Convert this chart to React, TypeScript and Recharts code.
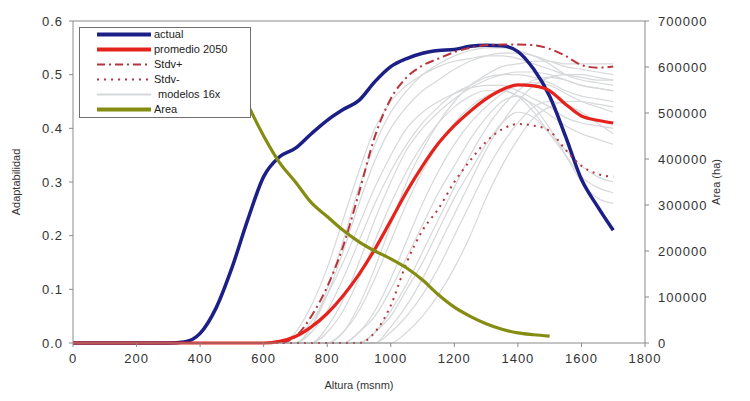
import { LineChart, Line, XAxis, YAxis, ReferenceLine } from "recharts";

// altura (msnm), step 50
const ALTITUDES = [
  0, 50, 100, 150, 200, 250, 300, 350, 400, 450, 500, 550, 600, 650, 700, 750, 800, 850,
  900, 950, 1000, 1050, 1100, 1150, 1200, 1250, 1300, 1350, 1400, 1450, 1500, 1550, 1600,
  1650, 1700,
];

const ACTUAL = [
  0, 0, 0, 0, 0, 0, 0, 0.002, 0.018, 0.065, 0.14, 0.23, 0.31, 0.347, 0.363, 0.39, 0.415,
  0.435, 0.452, 0.487, 0.515, 0.53, 0.54, 0.545, 0.547, 0.553, 0.555, 0.554, 0.543, 0.51, 0.46,
  0.385, 0.305, 0.255, 0.21,
];

const PROMEDIO_2050 = [
  0, 0, 0, 0, 0, 0, 0, 0, 0, 0, 0, 0, 0, 0.003, 0.012, 0.03, 0.055, 0.088, 0.128, 0.175, 0.228,
  0.282, 0.33, 0.372, 0.405, 0.432, 0.455, 0.472, 0.481, 0.479, 0.47, 0.445, 0.423, 0.415, 0.41,
];

const STDV_PLUS = [
  0, 0, 0, 0, 0, 0, 0, 0, 0, 0, 0, 0, 0, 0, 0.012, 0.05, 0.105, 0.18, 0.28, 0.385, 0.455,
  0.495, 0.517, 0.53, 0.542, 0.55, 0.555, 0.556, 0.556, 0.555, 0.548, 0.535, 0.518, 0.513,
  0.515,
];

const STDV_MINUS = [
  0, 0, 0, 0, 0, 0, 0, 0, 0, 0, 0, 0, 0, 0, 0, 0, 0, 0, 0, 0.02, 0.07, 0.15, 0.21, 0.25, 0.3,
  0.34, 0.375, 0.398, 0.408, 0.405, 0.395, 0.36, 0.33, 0.315, 0.31,
];

// ha
const AREA = [
  null, null, null, null, null, null, null, null, null, null, 590000, 518000, 450000, 392000,
  350000, 305000, 275000, 245000, 220000, 200000, 183000, 163000, 137000, 105000, 78000,
  58000, 42000, 30000, 22000, 18000, 15000, null, null, null, null,
];

// 16 modelos
const MODELOS = [
  [0, 0, 0, 0, 0, 0, 0, 0, 0, 0, 0, 0, 0, 0, 0.02, 0.07, 0.14, 0.23, 0.32, 0.4, 0.45, 0.48, 0.5, 0.515, 0.525, 0.53, 0.535, 0.535, 0.53, 0.52, 0.51, 0.5, 0.495, 0.49, 0.49],
  [0, 0, 0, 0, 0, 0, 0, 0, 0, 0, 0, 0, 0, 0, 0, 0.03, 0.09, 0.17, 0.26, 0.34, 0.4, 0.44, 0.47, 0.49, 0.51, 0.525, 0.535, 0.54, 0.54, 0.535, 0.525, 0.515, 0.51, 0.505, 0.5],
  [0, 0, 0, 0, 0, 0, 0, 0, 0, 0, 0, 0, 0, 0, 0, 0.02, 0.06, 0.12, 0.19, 0.26, 0.32, 0.37, 0.41, 0.44, 0.465, 0.48, 0.495, 0.5, 0.5, 0.495, 0.485, 0.47, 0.46, 0.455, 0.45],
  [0, 0, 0, 0, 0, 0, 0, 0, 0, 0, 0, 0, 0, 0, 0, 0, 0.03, 0.08, 0.15, 0.23, 0.3, 0.36, 0.4, 0.43, 0.455, 0.475, 0.49, 0.5, 0.505, 0.505, 0.5, 0.49, 0.48, 0.475, 0.47],
  [0, 0, 0, 0, 0, 0, 0, 0, 0, 0, 0, 0, 0, 0, 0, 0, 0.02, 0.06, 0.12, 0.19, 0.26, 0.32, 0.37, 0.41, 0.44, 0.46, 0.47, 0.47, 0.46, 0.445, 0.425, 0.405, 0.39, 0.38, 0.37],
  [0, 0, 0, 0, 0, 0, 0, 0, 0, 0, 0, 0, 0, 0, 0, 0, 0, 0.02, 0.07, 0.14, 0.22, 0.3, 0.36, 0.41, 0.45, 0.48, 0.5, 0.515, 0.52, 0.525, 0.525, 0.52, 0.52, 0.52, 0.52],
  [0, 0, 0, 0, 0, 0, 0, 0, 0, 0, 0, 0, 0, 0, 0, 0, 0, 0.02, 0.06, 0.12, 0.19, 0.26, 0.32, 0.37, 0.41, 0.44, 0.46, 0.47, 0.46, 0.43, 0.39, 0.35, 0.31, 0.29, 0.28],
  [0, 0, 0, 0, 0, 0, 0, 0, 0, 0, 0, 0, 0, 0, 0, 0, 0, 0, 0.02, 0.06, 0.12, 0.19, 0.26, 0.32, 0.37, 0.41, 0.44, 0.465, 0.48, 0.485, 0.48, 0.465, 0.45, 0.44, 0.43],
  [0, 0, 0, 0, 0, 0, 0, 0, 0, 0, 0, 0, 0, 0, 0, 0, 0, 0, 0.02, 0.05, 0.1, 0.16, 0.22, 0.28, 0.33, 0.38, 0.42, 0.45, 0.46, 0.44, 0.4, 0.35, 0.3, 0.27, 0.26],
  [0, 0, 0, 0, 0, 0, 0, 0, 0, 0, 0, 0, 0, 0, 0, 0, 0, 0, 0, 0.02, 0.06, 0.11, 0.17, 0.23, 0.29, 0.35, 0.4, 0.44, 0.47, 0.49, 0.495, 0.49, 0.48, 0.475, 0.47],
  [0, 0, 0, 0, 0, 0, 0, 0, 0, 0, 0, 0, 0, 0, 0, 0, 0, 0, 0, 0, 0.02, 0.05, 0.09, 0.14, 0.2, 0.26, 0.32, 0.37, 0.41, 0.44, 0.45, 0.445, 0.43, 0.41, 0.39],
  [0, 0, 0, 0, 0, 0, 0, 0, 0, 0, 0, 0, 0, 0, 0, 0, 0, 0, 0, 0, 0, 0.02, 0.05, 0.09, 0.14, 0.2, 0.27, 0.33, 0.38, 0.42, 0.44, 0.45, 0.45, 0.445, 0.44],
  [0, 0, 0, 0, 0, 0, 0, 0, 0, 0, 0, 0, 0, 0, 0, 0.03, 0.1, 0.19, 0.29, 0.37, 0.43, 0.47, 0.5, 0.52, 0.535, 0.545, 0.55, 0.55, 0.545, 0.535, 0.52, 0.5, 0.49, 0.485, 0.48],
  [0, 0, 0, 0, 0, 0, 0, 0, 0, 0, 0, 0, 0, 0, 0, 0, 0, 0, 0, 0.02, 0.05, 0.1, 0.15, 0.21, 0.27, 0.32, 0.37, 0.41, 0.43, 0.42, 0.39, 0.36, 0.33, 0.31, 0.3],
  [0, 0, 0, 0, 0, 0, 0, 0, 0, 0, 0, 0, 0, 0, 0.01, 0.04, 0.09, 0.15, 0.22, 0.29, 0.35, 0.4, 0.43, 0.45, 0.465, 0.475, 0.48, 0.48, 0.47, 0.455, 0.44, 0.42, 0.41, 0.405, 0.4],
  [0, 0, 0, 0, 0, 0, 0, 0, 0, 0, 0, 0, 0, 0, 0, 0, 0, 0, 0, 0, 0.03, 0.07, 0.12, 0.18, 0.24, 0.3, 0.36, 0.41, 0.45, 0.48, 0.495, 0.5, 0.5, 0.495, 0.49],
];

const X_TICKS = [0, 200, 400, 600, 800, 1000, 1200, 1400, 1600, 1800];
const LEFT_TICKS = [0, 0.1, 0.2, 0.3, 0.4, 0.5, 0.6];
const RIGHT_TICKS = [0, 100000, 200000, 300000, 400000, 500000, 600000, 700000];

const COLORS = {
  actual: "#1c1f86",
  promedio: "#e5231d",
  stdv: "#b8343c",
  modelos: "#d6d8da",
  area: "#848c12",
  axis: "#8a8a8a",
  text: "#333333",
};

const FONT = '"Liberation Sans", Arial, sans-serif';

const data = ALTITUDES.map((alt, i) => {
  const row: Record<string, number | null> = {
    alt,
    actual: ACTUAL[i],
    promedio: PROMEDIO_2050[i],
    stdvPlus: STDV_PLUS[i],
    stdvMinus: STDV_MINUS[i],
    area: AREA[i],
  };
  MODELOS.forEach((m, k) => {
    row[`m${k}`] = m[i];
  });
  return row;
});

const tickStyle = { fill: COLORS.text, fontSize: 13, fontFamily: FONT, letterSpacing: 1 };

const LEGEND_ITEMS = [
  { label: "actual", color: COLORS.actual, width: 4, dash: undefined, indent: 0 },
  { label: "promedio 2050", color: COLORS.promedio, width: 4, dash: undefined, indent: 0 },
  { label: "Stdv+", color: COLORS.stdv, width: 2, dash: "8 4 2 4", indent: 0 },
  { label: "Stdv-", color: COLORS.stdv, width: 2, dash: "2 5", indent: 0 },
  { label: "modelos 16x", color: COLORS.modelos, width: 2, dash: undefined, indent: 4 },
  { label: "Area", color: COLORS.area, width: 4, dash: undefined, indent: 0 },
];

function ChartLegend() {
  return (
    <div
      style={{
        position: "absolute",
        left: 79,
        top: 27,
        width: 172,
        height: 91,
        boxSizing: "border-box",
        border: "1px solid #707070",
        background: "#ffffff",
        fontFamily: FONT,
        fontSize: 11,
        color: "#222",
      }}
    >
      {LEGEND_ITEMS.map((item, i) => (
        <div
          key={item.label}
          style={{
            position: "absolute",
            left: 0,
            top: i * 15 - 1,
            height: 15,
            display: "flex",
            alignItems: "center",
          }}
        >
          <svg width={74} height={15} style={{ display: "block" }}>
            <line
              x1={17}
              x2={71}
              y1={7.5}
              y2={7.5}
              stroke={item.color}
              strokeWidth={item.width}
              strokeDasharray={item.dash}
            />
          </svg>
          <span style={{ marginLeft: item.indent, lineHeight: "15px" }}>{item.label}</span>
        </div>
      ))}
    </div>
  );
}

export default function App() {
  return (
    <div style={{ position: "absolute", left: 0, top: 0, width: 750, height: 401, background: "#fff" }}>
      <LineChart
        width={750}
        height={401}
        data={data}
        margin={{ top: 21, right: 0, bottom: 0, left: 0 }}
      >
        <XAxis
          dataKey="alt"
          type="number"
          domain={[0, 1800]}
          ticks={X_TICKS}
          height={58}
          stroke={COLORS.axis}
          tick={tickStyle}
          tickSize={4}
          tickMargin={7}
          label={{
            value: "Altura (msnm)",
            position: "insideBottom",
            offset: 12,
            style: { fill: COLORS.text, fontSize: 11, fontFamily: FONT },
          }}
        />
        <YAxis
          yAxisId="left"
          domain={[0, 0.6]}
          ticks={LEFT_TICKS}
          width={73}
          stroke={COLORS.axis}
          tick={tickStyle}
          tickSize={4}
          tickMargin={6}
          tickFormatter={(v: number) => v.toFixed(1)}
          label={{
            value: "Adaptabilidad",
            angle: -90,
            position: "insideLeft",
            offset: 16,
            style: { fill: COLORS.text, fontSize: 11, fontFamily: FONT, textAnchor: "middle" },
          }}
        />
        <YAxis
          yAxisId="right"
          orientation="right"
          domain={[0, 700000]}
          ticks={RIGHT_TICKS}
          width={105}
          stroke={COLORS.axis}
          tick={tickStyle}
          tickSize={4}
          tickMargin={9}
          label={{
            value: "Area (ha)",
            angle: -90,
            position: "insideRight",
            offset: 34,
            style: { fill: COLORS.text, fontSize: 11, fontFamily: FONT, textAnchor: "middle" },
          }}
        />
        <ReferenceLine yAxisId="left" y={0.6} stroke={COLORS.axis} />
        {MODELOS.map((_, k) => (
          <Line
            key={k}
            yAxisId="left"
            type="monotone"
            dataKey={`m${k}`}
            stroke={COLORS.modelos}
            strokeWidth={1.2}
            dot={false}
            isAnimationActive={false}
          />
        ))}
        <Line
          yAxisId="left"
          type="monotone"
          dataKey="actual"
          stroke={COLORS.actual}
          strokeWidth={3.5}
          dot={false}
          isAnimationActive={false}
        />
        <Line
          yAxisId="left"
          type="monotone"
          dataKey="stdvPlus"
          stroke={COLORS.stdv}
          strokeWidth={2}
          strokeDasharray="9 4 2 4"
          dot={false}
          isAnimationActive={false}
        />
        <Line
          yAxisId="left"
          type="monotone"
          dataKey="stdvMinus"
          stroke={COLORS.stdv}
          strokeWidth={2}
          strokeDasharray="2 5"
          dot={false}
          isAnimationActive={false}
        />
        <Line
          yAxisId="left"
          type="monotone"
          dataKey="promedio"
          stroke={COLORS.promedio}
          strokeWidth={3.2}
          dot={false}
          isAnimationActive={false}
        />
        <Line
          yAxisId="right"
          type="monotone"
          dataKey="area"
          stroke={COLORS.area}
          strokeWidth={3.2}
          dot={false}
          isAnimationActive={false}
        />
      </LineChart>
      <ChartLegend />
    </div>
  );
}
